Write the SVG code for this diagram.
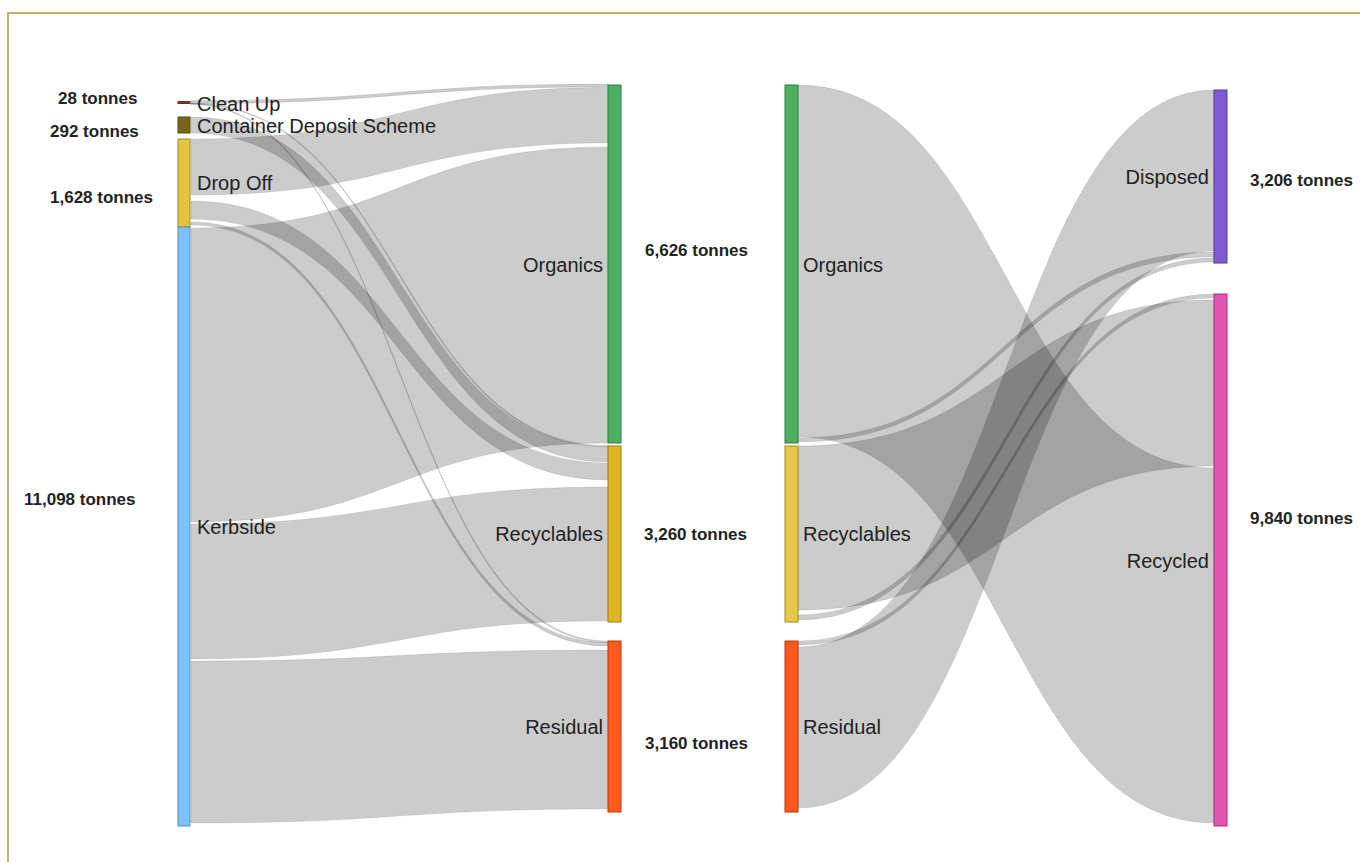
<svg xmlns="http://www.w3.org/2000/svg" width="1360" height="862" viewBox="0 0 1360 862">
<style>
.lk{fill:#000;fill-opacity:0.2;stroke:#000;stroke-opacity:0.12;stroke-width:0.7}
.nd{stroke-width:1}
.lb{font-family:"Liberation Sans",Arial,sans-serif;font-size:20px;fill:#222}
.vl{font-family:"Liberation Sans",Arial,sans-serif;font-size:17px;font-weight:bold;fill:#222}
.end{text-anchor:end}
</style>
<rect x="0" y="0" width="1360" height="862" fill="#fff"/>
<rect x="8" y="13" width="1370" height="870" fill="none" stroke="#a8993c" stroke-width="1.5"/>
<g id="links">
<!-- stage 1: x 191 -> 608, mid 399.5 -->
<path class="lk" d="M191,100.5 C399.5,100.5 399.5,84 608,84 L608,87 C399.5,87 399.5,103.5 191,103.5 Z"/>
<path class="lk" d="M191,103 C399.5,103 399.5,445.5 608,445.5 L608,447 C399.5,447 399.5,104 191,104 Z"/>
<path class="lk" d="M191,103.5 C399.5,103.5 399.5,641 608,641 L608,642.5 C399.5,642.5 399.5,104.5 191,104.5 Z"/>
<path class="lk" d="M191,117 C399.5,117 399.5,447 608,447 L608,462 C399.5,462 399.5,133 191,133 Z"/>
<path class="lk" d="M191,139 C399.5,139 399.5,87.5 608,87.5 L608,143 C399.5,143 399.5,195 191,195 Z"/>
<path class="lk" d="M191,201 C399.5,201 399.5,463 608,463 L608,480 C399.5,480 399.5,219 191,219 Z"/>
<path class="lk" d="M191,222 C399.5,222 399.5,642.5 608,642.5 L608,646 C399.5,646 399.5,225 191,225 Z"/>
<path class="lk" d="M191,228 C399.5,228 399.5,147 608,147 L608,443 C399.5,443 399.5,522 191,522 Z"/>
<path class="lk" d="M191,524 C399.5,524 399.5,487 608,487 L608,621 C399.5,621 399.5,659 191,659 Z"/>
<path class="lk" d="M191,661 C399.5,661 399.5,650 608,650 L608,809 C399.5,809 399.5,823 191,823 Z"/>
<!-- stage 2: x 798 -> 1214, mid 1006 -->
<path class="lk" d="M798,85 C1006,85 1006,468 1214,468 L1214,823 C1006,823 1006,437 798,437 Z"/>
<path class="lk" d="M798,438 C1006,438 1006,252 1214,252 L1214,257 C1006,257 1006,442 798,442 Z"/>
<path class="lk" d="M798,446 C1006,446 1006,300 1214,300 L1214,466 C1006,466 1006,610 798,610 Z"/>
<path class="lk" d="M798,615 C1006,615 1006,258 1214,258 L1214,262 C1006,262 1006,620 798,620 Z"/>
<path class="lk" d="M798,647 C1006,647 1006,90 1214,90 L1214,251 C1006,251 1006,808 798,808 Z"/>
<path class="lk" d="M798,641 C1006,641 1006,294 1214,294 L1214,298 C1006,298 1006,645 798,645 Z"/>
</g>
<g id="node-cleanup">
<rect class="nd" x="178" y="101.5" width="12" height="2" fill="#8a3b2a" stroke="#6a2a1c" stroke-width="0.5"/>
<text class="lb" x="197" y="111">Clean Up</text>
<text class="vl" x="58" y="104">28 tonnes</text>
</g>
<g id="node-cds">
<rect class="nd" x="178" y="117" width="12" height="16" fill="#7a6418" stroke="#5a4a10"/>
<text class="lb" x="197" y="133">Container Deposit Scheme</text>
<text class="vl" x="50" y="137">292 tonnes</text>
</g>
<g id="node-dropoff">
<rect class="nd" x="178" y="139" width="12" height="88" fill="#e5c443" stroke="#a88c20"/>
<text class="lb" x="197" y="190">Drop Off</text>
<text class="vl" x="50" y="203">1,628 tonnes</text>
</g>
<g id="node-kerbside">
<rect class="nd" x="178" y="227" width="12" height="599" fill="#80c0ff" stroke="#5a8fc0"/>
<text class="lb" x="197" y="534">Kerbside</text>
<text class="vl" x="24" y="505">11,098 tonnes</text>
</g>
<g id="node-organics-in">
<rect class="nd" x="608" y="85" width="13" height="358" fill="#4caf62" stroke="#2f7d40"/>
<text class="lb end" x="603" y="272">Organics</text>
<text class="vl" x="645" y="256">6,626 tonnes</text>
</g>
<g id="node-recyclables-in">
<rect class="nd" x="608" y="446" width="13" height="176" fill="#ddb526" stroke="#9a7f10"/>
<text class="lb end" x="603" y="541">Recyclables</text>
<text class="vl" x="644" y="540">3,260 tonnes</text>
</g>
<g id="node-residual-in">
<rect class="nd" x="608" y="641" width="13" height="171" fill="#ff5a1e" stroke="#b33a10"/>
<text class="lb end" x="603" y="734">Residual</text>
<text class="vl" x="645" y="749">3,160 tonnes</text>
</g>
<g id="node-organics-out">
<rect class="nd" x="785" y="85" width="13" height="358" fill="#4caf62" stroke="#2f7d40"/>
<text class="lb" x="803" y="272">Organics</text>
</g>
<g id="node-recyclables-out">
<rect class="nd" x="785" y="446" width="13" height="176" fill="#e6c84a" stroke="#a88c20"/>
<text class="lb" x="803" y="541">Recyclables</text>
</g>
<g id="node-residual-out">
<rect class="nd" x="785" y="641" width="13" height="171" fill="#ff5a1e" stroke="#b33a10"/>
<text class="lb" x="803" y="734">Residual</text>
</g>
<g id="node-disposed">
<rect class="nd" x="1214" y="90" width="13" height="173" fill="#7d5bd0" stroke="#553a9a"/>
<text class="lb end" x="1209" y="184">Disposed</text>
<text class="vl" x="1250" y="186">3,206 tonnes</text>
</g>
<g id="node-recycled">
<rect class="nd" x="1214" y="294" width="13" height="532" fill="#e255b0" stroke="#a03380"/>
<text class="lb end" x="1209" y="568">Recycled</text>
<text class="vl" x="1250" y="524">9,840 tonnes</text>
</g>
</svg>
